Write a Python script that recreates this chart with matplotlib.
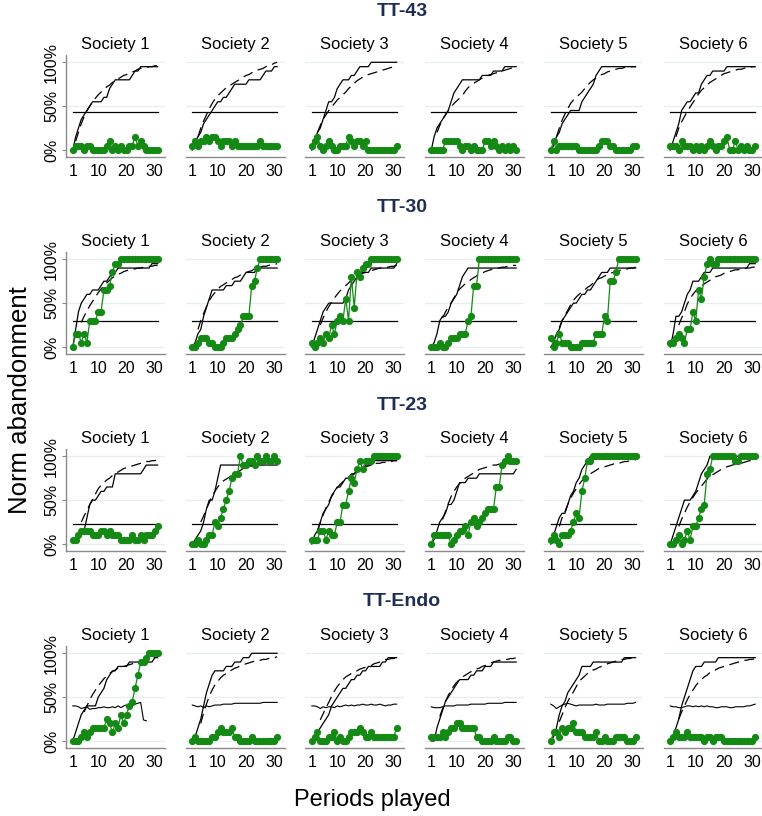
import numpy as np
import matplotlib
matplotlib.use("Agg")
import matplotlib.pyplot as plt

plt.rcParams['font.family'] = ['Liberation Sans', 'DejaVu Sans']

nan = np.nan
periods = list(range(1, 32))
row_titles = ["TT-43", "TT-30", "TT-23", "TT-Endo"]
societies = ["Society 1", "Society 2", "Society 3", "Society 4", "Society 5", "Society 6"]
x_ticks = [1, 10, 20, 30]
y_ticks = [0, 50, 100]
y_ticklabels = ["0%", "50%", "100%"]
thresholds = [43, 30, 23]

# ---------------- TT-43 ----------------
green_tt43 = [
    [0,5,5,5,0,5,5,0,0,0,0,0,5,10,0,5,0,5,0,0,5,5,15,5,10,5,0,0,0,0,0],
    [5,10,5,10,10,15,10,15,15,10,5,10,10,10,5,10,5,5,5,5,5,5,5,5,10,5,5,5,5,5,5],
    [5,10,15,5,0,5,10,5,0,0,5,5,5,15,10,5,10,10,5,10,0,0,0,0,0,0,0,0,0,0,5],
    [0,0,0,0,0,10,10,10,10,10,5,0,5,5,0,5,0,0,0,10,10,5,10,5,0,5,0,5,0,5,0],
    [0,10,0,5,5,5,5,5,5,5,0,0,0,0,0,0,0,5,10,10,10,5,5,0,0,0,0,0,0,5,5],
    [5,5,5,0,10,5,5,5,0,5,0,5,0,5,10,5,0,5,5,10,15,0,0,10,0,5,0,5,0,0,5],
]
solid_tt43 = [
    [0,15,25,35,40,45,50,55,55,55,55,60,60,70,75,80,80,80,80,80,80,85,90,90,95,95,95,95,95,95,95],
    [0,10,15,20,30,35,40,45,50,55,55,60,60,65,70,75,75,75,75,75,80,80,80,80,80,85,90,90,90,95,95],
    [0,10,20,25,35,45,55,55,60,70,75,80,80,80,85,85,90,95,95,95,95,100,100,100,100,100,100,100,100,100,100],
    [0,15,25,30,35,40,45,55,65,70,75,80,80,80,80,80,80,80,85,85,85,85,90,90,90,90,95,95,95,95,95],
    [0,5,15,20,30,35,40,45,45,45,45,55,60,65,70,75,85,90,95,95,95,95,95,95,95,95,95,95,95,95,95],
    [0,10,20,30,45,50,55,55,60,65,65,75,80,85,85,90,90,90,90,90,95,95,95,95,95,95,95,95,95,95,95],
]
dashed_tt43 = [
    [nan,10,20,30,38,45,50,55,59,63,66,69,72,74,77,79,81,83,85,86,88,89,90,92,93,94,94,95,95,96,96],
    [nan,nan,15,25,33,40,47,53,58,62,65,68,71,73,75,77,79,81,83,85,86,88,89,91,92,93,95,96,97,99,100],
    [nan,nan,20,28,35,40,45,49,53,57,60,63,66,70,73,76,79,81,83,85,86,87,88,89,90,91,92,93,94,95,95],
    [nan,nan,20,28,35,40,45,49,53,56,59,62,67,71,74,76,78,80,82,84,85,86,87,88,89,90,91,92,93,94,95],
    [nan,nan,15,25,34,41,47,53,57,60,63,66,70,74,77,80,82,84,86,87,89,90,91,92,93,93,94,94,95,95,95],
    [nan,nan,15,25,32,38,44,49,54,59,64,68,71,74,77,79,81,83,85,87,88,89,90,91,92,92,93,94,94,95,95],
]

# ---------------- TT-30 ----------------
green_tt30 = [
    [0,15,15,5,15,5,30,30,30,40,40,65,65,70,85,95,95,100,100,100,100,100,100,100,100,100,100,100,100,100,100],
    [0,0,5,10,10,10,5,5,0,0,0,5,10,10,10,15,20,25,35,35,35,70,75,90,100,100,100,100,100,100,100],
    [5,0,5,10,5,15,10,25,15,30,35,30,55,30,80,45,85,80,90,95,95,100,100,100,100,100,100,100,100,100,100],
    [0,0,0,5,0,0,5,10,10,10,15,15,15,30,35,70,70,100,100,100,100,100,100,100,100,100,100,100,100,100,100],
    [10,0,5,15,5,5,5,0,0,0,0,5,5,5,5,5,15,15,15,35,30,75,75,85,100,100,100,100,100,100,100],
    [5,5,10,15,10,5,20,20,40,30,65,55,80,95,100,95,95,100,100,100,100,100,100,100,100,100,100,100,100,100,100],
]
solid_tt30 = [
    [0,20,40,50,55,60,60,65,65,65,70,75,75,80,85,85,90,90,90,90,90,90,90,90,90,90,90,90,95,95,95],
    [0,5,15,20,35,45,55,65,65,65,65,65,70,70,70,75,75,75,80,85,85,85,85,90,90,90,90,90,90,90,90],
    [0,10,20,30,40,45,50,50,50,50,50,50,55,65,70,75,80,85,85,85,85,90,90,90,90,90,90,90,90,90,95],
    [0,5,15,30,35,35,40,50,55,60,70,80,85,90,90,90,90,90,90,90,90,90,90,90,90,90,90,90,90,90,90],
    [0,5,15,20,30,35,40,45,50,50,55,60,60,65,65,70,75,80,85,85,85,90,90,90,90,90,90,90,90,90,90],
    [0,15,35,35,40,50,60,65,75,75,75,80,85,85,85,90,90,90,90,90,90,90,90,90,90,90,90,90,95,95,95],
]
dashed_tt30 = [
    [nan,nan,nan,28,35,41,47,52,57,62,66,70,73,76,79,81,83,84,86,87,88,89,89,90,90,91,91,92,92,93,93],
    [nan,nan,20,30,38,46,53,58,62,66,69,71,73,75,77,79,80,82,83,85,86,87,89,90,91,92,92,93,94,94,95],
    [nan,nan,nan,25,33,40,46,51,56,60,64,67,70,73,76,78,80,82,84,85,86,87,88,89,90,90,91,91,92,92,93],
    [nan,nan,nan,nan,33,40,45,50,56,62,66,69,72,74,77,79,81,83,84,86,87,88,89,90,90,91,91,92,92,93,93],
    [nan,nan,nan,22,30,36,42,48,53,57,60,63,65,68,70,73,76,78,79,81,82,84,85,86,87,88,88,89,90,90,91],
    [nan,nan,nan,25,33,40,49,55,60,64,67,69,72,74,76,78,80,81,82,84,85,86,87,88,88,89,89,90,90,91,91],
]

# ---------------- TT-23 ----------------
green_tt23 = [
    [5,5,10,15,15,15,15,10,10,10,15,15,10,15,10,10,10,5,5,5,5,10,5,5,10,5,10,10,10,15,20],
    [0,0,5,0,0,5,10,10,25,20,30,40,50,60,75,80,80,100,90,90,95,95,90,100,95,95,100,95,95,100,95],
    [5,5,5,15,15,5,15,10,10,25,25,45,45,60,75,70,85,95,85,95,95,95,100,100,100,100,100,100,100,100,100],
    [0,10,10,10,10,10,10,0,5,10,15,15,20,10,25,30,20,25,30,35,40,40,40,65,65,90,95,100,95,95,95],
    [5,10,5,0,10,10,10,15,25,35,30,60,75,95,95,100,100,100,100,100,100,100,100,100,100,100,100,100,100,100,100],
    [0,0,5,10,0,5,15,5,20,20,30,40,45,80,85,100,100,100,100,100,100,100,100,95,95,100,100,100,100,100,100],
]
solid_tt23 = [
    [nan,nan,nan,nan,15,30,45,50,50,55,60,60,65,65,65,80,80,80,80,80,80,80,80,80,80,85,90,90,90,90,90],
    [0,5,10,15,25,40,50,50,60,75,90,90,90,90,90,90,90,90,90,90,90,90,90,90,90,90,90,90,90,90,90],
    [0,10,15,25,35,40,45,55,60,65,65,70,75,75,80,80,85,85,85,90,90,90,95,95,95,95,95,95,95,95,95],
    [0,5,15,25,30,35,45,45,50,60,70,70,70,75,75,75,75,80,80,80,80,80,80,80,80,80,80,80,80,80,85],
    [0,10,20,30,35,35,45,55,60,70,75,85,90,95,100,100,100,100,100,100,100,100,100,100,100,100,100,100,100,100,100],
    [0,10,20,30,40,50,50,50,55,60,70,80,85,90,100,100,100,100,100,100,100,100,100,100,100,100,100,100,100,100,100],
]
dashed_tt23 = [
    [nan,nan,nan,25,32,38,45,51,57,63,67,70,73,75,78,80,82,84,86,87,88,89,90,91,92,93,94,94,95,95,96],
    [nan,nan,nan,25,32,40,47,55,60,65,69,72,74,76,78,80,82,84,86,87,88,89,90,91,92,93,93,94,94,95,95],
    [nan,nan,15,24,33,41,48,54,59,64,68,71,74,76,78,80,82,84,86,88,89,90,91,92,92,93,93,94,94,95,95],
    [nan,nan,nan,nan,28,37,46,54,60,65,69,72,75,77,79,81,83,85,86,87,88,89,90,90,91,91,92,92,93,93,94],
    [nan,nan,nan,20,30,37,45,52,58,63,68,72,75,78,80,82,84,86,87,88,89,90,91,92,92,93,94,94,95,95,96],
    [nan,nan,nan,20,28,35,42,48,53,58,62,66,70,74,77,79,81,83,85,87,88,89,90,91,92,92,93,94,95,95,96],
]

# ---------------- TT-Endo ----------------
green_endo = [
    [0,0,0,5,10,5,10,15,15,15,15,15,25,20,10,20,15,30,20,30,40,45,60,75,90,90,95,100,100,100,100],
    [0,5,0,0,0,0,0,5,5,10,15,10,10,10,15,5,5,0,0,0,0,5,0,0,0,0,0,0,0,0,5],
    [0,5,10,0,0,0,5,5,10,0,5,0,0,5,10,10,10,15,10,5,5,10,5,5,5,5,5,5,5,5,15],
    [5,5,5,5,10,5,10,15,15,20,20,15,15,15,15,15,5,5,0,0,0,0,5,0,0,0,0,5,5,0,0],
    [0,10,10,5,15,10,15,15,20,10,10,10,5,5,5,5,10,0,0,5,0,0,0,5,5,5,5,0,0,0,5],
    [0,5,10,5,5,5,10,5,5,5,5,5,0,5,5,0,5,5,5,0,0,0,0,0,0,0,0,0,0,0,5],
]
solid_endo = [
    [0,10,20,30,35,40,40,40,40,50,55,60,70,75,80,80,85,85,85,85,90,90,90,90,90,90,90,90,90,95,95],
    [0,5,15,25,40,55,65,75,80,80,80,80,85,85,85,90,90,90,95,95,95,100,100,100,100,100,100,100,100,100,100],
    [0,5,10,15,20,25,30,40,45,50,55,60,60,65,70,70,75,75,80,80,85,85,85,85,85,90,90,95,95,95,95],
    [0,0,15,25,35,45,50,55,60,65,70,70,70,70,75,75,80,80,80,85,85,85,90,90,90,90,90,90,90,90,90],
    [0,5,15,30,40,45,55,60,65,70,75,85,85,85,85,90,90,90,90,90,90,90,90,90,90,90,95,95,95,95,95],
    [0,5,15,25,40,50,60,70,80,85,85,85,90,90,90,90,90,95,95,95,95,95,95,95,95,95,95,95,95,95,95],
]
dashed_endo = [
    [nan,nan,nan,nan,33,40,47,53,58,63,67,71,74,77,79,81,83,84,85,86,87,88,89,90,90,91,92,93,94,95,96],
    [nan,nan,nan,20,32,42,51,58,64,68,72,75,77,79,81,83,84,86,87,88,89,90,91,91,92,93,93,94,95,95,96],
    [nan,nan,nan,24,31,38,44,51,57,62,66,70,73,75,77,79,80,82,83,84,85,86,88,89,90,92,93,93,94,94,95],
    [nan,nan,nan,28,37,45,52,58,63,67,70,73,75,77,79,80,82,83,85,86,88,89,90,91,92,92,93,93,94,94,95],
    [nan,nan,nan,22,30,38,45,51,56,62,68,71,74,77,79,81,82,84,85,86,88,89,90,91,92,93,93,94,94,95,95],
    [nan,nan,nan,25,33,40,47,53,58,63,67,70,73,75,78,80,81,83,84,85,86,87,88,89,90,91,92,92,93,93,94],
]
threshold_endo = [
    [40,40,39,37,38,39,36,37,37,38,38,39,38,38,39,38,40,38,40,41,40,40,42,43,44,24,23,nan,nan,nan,nan],
    [41,40,39,40,38,40,39,40,41,41,41,42,42,42,42,43,43,43,43,43,43,43,43,43,43,44,44,44,44,44,44],
    [40,40,39,37,39,38,39,39,38,40,39,40,41,40,41,40,41,41,42,41,41,42,41,41,42,41,40,41,41,42,42],
    [39,38,38,38,39,40,40,40,40,41,41,41,41,41,42,42,42,42,42,42,43,43,43,43,43,43,44,44,44,44,44],
    [42,40,37,39,41,42,43,42,41,40,41,41,41,41,41,41,42,41,41,41,42,42,42,42,42,42,42,43,43,43,44],
    [40,39,39,38,38,39,40,40,39,40,39,40,39,40,39,39,38,38,39,39,39,38,38,39,39,39,39,40,40,41,42],
]

greens = [green_tt43, green_tt30, green_tt23, green_endo]
solids = [solid_tt43, solid_tt30, solid_tt23, solid_endo]
dasheds = [dashed_tt43, dashed_tt30, dashed_tt23, dashed_endo]

# ---------------- layout ----------------
W, H = 762, 816
fig = plt.figure(figsize=(W / 100, H / 100), dpi=100)
col_left = [66, 185.5, 305, 424.5, 544, 663.5]
row_top = [55, 252, 449, 646]
ax_w, ax_h = 99, 102
title_y = [12, 208, 405, 602]

GREEN = '#148a14'
GRID = '#e6eef1'
SPINE = '#8a8a8a'
NAVY = '#1f2d56'

for r in range(4):
    fig.text(402 / W, 1 - title_y[r] / H, row_titles[r], ha='center', va='center',
             fontsize=14, fontweight='bold', color=NAVY)
    for c in range(6):
        ax = fig.add_axes([col_left[c] / W, 1 - (row_top[r] + ax_h) / H, ax_w / W, ax_h / H])
        ax.set_xlim(-1.4, 33.6)
        ax.set_ylim(-8, 108.3)
        for g in y_ticks:
            ax.axhline(g, color=GRID, lw=0.9, zorder=0)
        if r < 3:
            ax.plot([periods[0], periods[-1]], [thresholds[r]] * 2, color='black', lw=0.9, zorder=2)
        else:
            ax.plot(periods, threshold_endo[c], color='black', lw=0.8, zorder=2)
        ax.plot(periods, solids[r][c], color='black', lw=0.9, zorder=2)
        ax.plot(periods, dasheds[r][c], color='black', lw=0.9, dashes=(8, 4.5), zorder=2)
        ax.plot(periods, greens[r][c], color=GREEN, lw=0.9, marker='o', markersize=5.2,
                markeredgewidth=0, zorder=3)
        ax.set_title(societies[c], fontsize=12, pad=4)
        for s in ['top', 'right']:
            ax.spines[s].set_visible(False)
        ax.spines['bottom'].set_color(SPINE)
        ax.spines['bottom'].set_linewidth(1.0)
        ax.set_xticks(x_ticks)
        ax.tick_params(axis='x', labelsize=11.5, length=0, pad=5)
        if c == 0:
            ax.spines['left'].set_color(SPINE)
            ax.spines['left'].set_linewidth(1.0)
            ax.set_yticks(y_ticks)
            ax.set_yticklabels(y_ticklabels, rotation=90, va='center')
            ax.tick_params(axis='y', labelsize=11.5, length=3, color=SPINE, pad=2)
        else:
            ax.spines['left'].set_visible(False)
            ax.set_yticks([])

fig.text(372 / W, 1 - 800 / H, 'Periods played', ha='center', va='center', fontsize=17)
fig.text(20 / W, 1 - 400 / H, 'Norm abandonment', ha='center', va='center', fontsize=18.5,
         rotation=90)

fig.savefig('out.png', dpi=100)
